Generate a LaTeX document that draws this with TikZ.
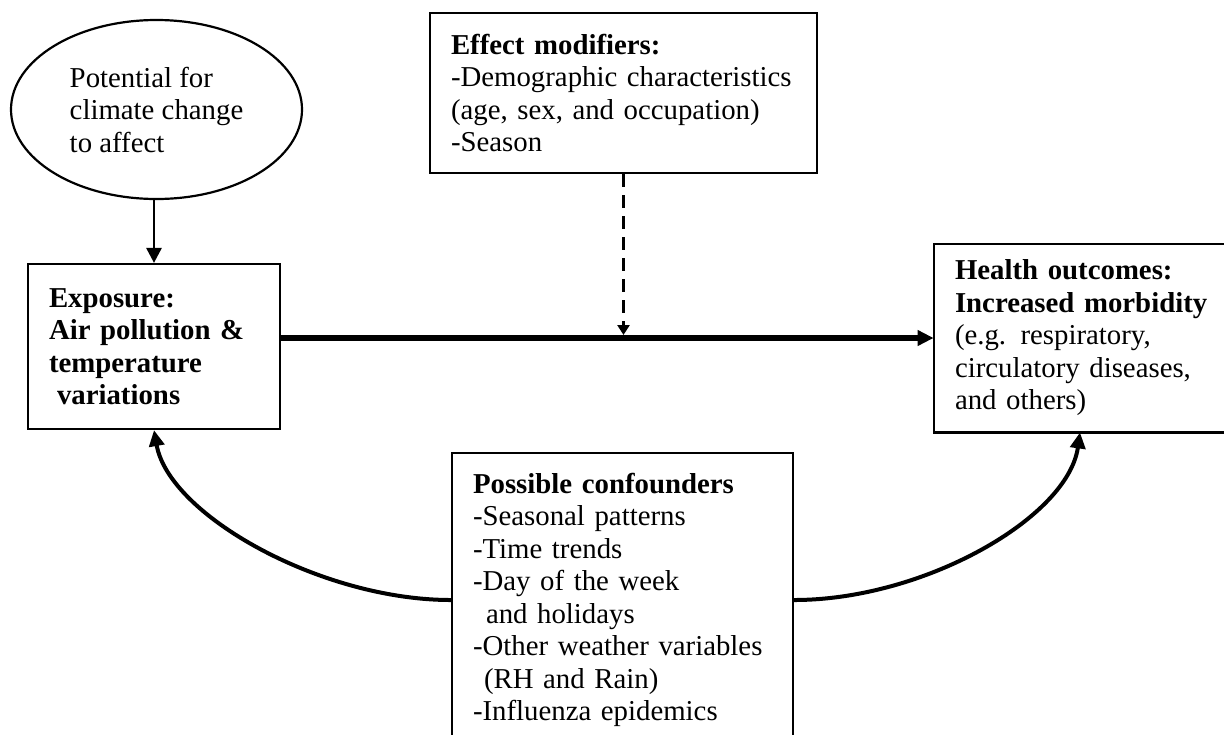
\documentclass[tikz,border=0pt]{standalone}
\usepackage{fontspec}
\setmainfont{Liberation Serif}
\usetikzlibrary{shapes.geometric,arrows.meta}
\tikzset{
  boxnode/.style={draw=black, line width=1.1pt, rectangle, inner xsep=10.5pt, inner ysep=0pt, align=left, font=\fontsize{14.4}{16.25}\selectfont},
  openbox/.style={draw=none, rectangle, inner xsep=10.5pt, inner ysep=0pt, align=left, font=\fontsize{14.4}{16.25}\selectfont},
  edge/.style={line width=1.1pt},
  ellnode/.style={draw=black, line width=1.1pt, ellipse, inner sep=0pt, align=left, font=\fontsize{14.4}{16.25}\selectfont},
  thinarrow/.style={line width=1.4pt, -{Triangle[length=7.5pt,width=7.5pt]}},
  thickarrow/.style={line width=3pt, -{Triangle[length=8pt,width=7.5pt]}},
  dasharrow/.style={line width=1.5pt, dash pattern=on 6.5pt off 4pt, -{Triangle[length=5pt,width=6pt]}, shorten >=1.5pt},
  curvearrow/.style={line width=2pt, -{Triangle[length=8pt,width=7.5pt]}}
}
\begin{document}
\begin{tikzpicture}[x=0.5pt,y=-0.5pt]
\useasboundingbox (0,0) rectangle (1224,734);
\clip (0,0) rectangle (1224,734);
\fill[white] (0,0) rectangle (1224,734);

% ellipse
\node[ellnode, minimum width=145.5pt, minimum height=89.5pt] (ell) at (156.5,109.5)
  {Potential for\\climate change\\to affect};

% effect modifiers
\node[boxnode, minimum height=80pt, text width=172.5pt] (mod) at (623.5,93)
  {\textbf{Effect modifiers:}\\-Demographic characteristics\\(age, sex, and occupation)\\-Season};

% exposure
\node[boxnode, minimum height=82.5pt, text width=105pt] (exp) at (154,346.5)
  {\textbf{Exposure:}\\\textbf{Air pollution \&}\\\textbf{temperature}\\\hspace{4pt}\textbf{variations}};

% health outcomes (its right side lies past the picture's edge)
\node[openbox, minimum height=94pt, text width=150pt] (hlth) at (1105,338)
  {\textbf{Health outcomes:}\\\textbf{Increased morbidity}\\(e.g. respiratory,\\circulatory diseases,\\and others)};
\draw[edge] (hlth.north east) -- (hlth.north west) -- (hlth.south west) -- (hlth.south east);

% confounders (its bottom lies past the picture's edge)
\node[boxnode, minimum height=147pt, text width=149.5pt] (conf) at (622.5,600)
  {\textbf{Possible confounders}\\-Seasonal patterns\\-Time trends\\-Day of the week\\\hspace{6.5pt}and holidays\\-Other weather variables\\\hspace{5.5pt}(RH and Rain)\\-Influenza epidemics};

% connectors
\draw[thinarrow] (exp.north |- ell.south) -- (exp.north);
\draw[thickarrow] (exp.east |- hlth.west) -- (hlth.west);
\coordinate (meet) at (mod.south |- hlth.west);
\draw[dasharrow] (mod.south) -- (meet);
\draw[curvearrow] (conf.west) .. controls +(-130,0) and +(15,85) .. (exp.south);
\coordinate (hin) at ([xshift=-12.5pt]hlth.south);
\draw[curvearrow] (conf.east) .. controls +(130,0) and +(-12,85) .. (hin);
\end{tikzpicture}
\end{document}
